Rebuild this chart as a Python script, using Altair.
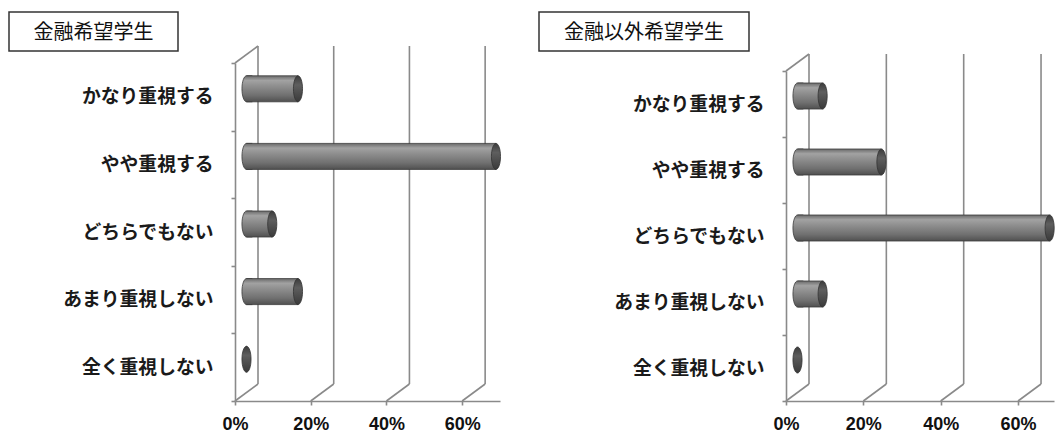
import altair as alt
import pandas as pd

# ---- data ----
categories = ["かなり重視する", "やや重視する", "どちらでもない", "あまり重視しない", "全く重視しない"]
finance_pct = [13.6, 65.9, 6.8, 13.6, 0.0]        # 金融希望学生
non_finance_pct = [6.5, 21.7, 65.2, 6.5, 0.0]     # 金融以外希望学生
tick_values = [0, 20, 40, 60]
panel_titles = ["金融希望学生", "金融以外希望学生"]

# ---- styling ----
LINE = "#8a8a8a"
LW = 1.6
DX, DY = 23, -17            # depth of the pseudo-3D back wall (px)
BAR_H = 26
BAR_DX, BAR_DY = 11.5, -8
CAP_SIZE = BAR_H * BAR_H
JP = "Noto Sans CJK JP"

bar_grad = alt.Gradient(
    gradient="linear", x1=0, y1=0, x2=0, y2=1,
    stops=[
        alt.GradientStop(color="#6a6a6a", offset=0.0),
        alt.GradientStop(color="#a2a2a2", offset=0.18),
        alt.GradientStop(color="#8e8e8e", offset=0.4),
        alt.GradientStop(color="#707070", offset=0.75),
        alt.GradientStop(color="#505050", offset=1.0),
    ],
)
cap_grad = alt.Gradient(
    gradient="linear", x1=0, y1=0, x2=0, y2=1,
    stops=[
        alt.GradientStop(color="#3c3c3c", offset=0.0),
        alt.GradientStop(color="#5e5e5e", offset=0.35),
        alt.GradientStop(color="#3a3a3a", offset=1.0),
    ],
)
RIGHT_CAP = "M0,-1 A0.35,1 0 1,1 0,1 A0.35,1 0 1,1 0,-1 Z"
LEFT_CAP = "M0.45,-1 L0,-1 A0.35,1 0 0,0 0,1 L0.45,1"


def panel(title, values, W, H, inset, xmax, box):
    bx1, bx2, by1, by2 = box
    bars = pd.DataFrame({"cat": categories, "v": values})
    ticks = pd.DataFrame({"t": tick_values})
    tdf = pd.DataFrame({"title": [title]})

    xs = alt.Scale(domain=[0, xmax], nice=False, zero=True)
    ys = alt.Scale(domain=categories, range=[inset, H], paddingInner=0, paddingOuter=0)
    xax = alt.Axis(
        values=tick_values, labelExpr="datum.value + '%'", title=None, grid=False,
        domainColor=LINE, domainWidth=LW, tickColor=LINE, tickWidth=LW, tickSize=4,
        labelPadding=10, labelFont="Liberation Sans", labelFontWeight="bold",
        labelFontSize=18, labelColor="#111111", labelFlush=False,
    )
    yax = alt.Axis(
        title=None, grid=False, domainColor=LINE, domainWidth=LW, tickColor=LINE,
        tickWidth=LW, tickSize=4, tickBand="extent", labelPadding=18,
        labelFont=JP, labelFontWeight="bold", labelFontSize=18.8, labelColor="#1a1a1a",
        labelLimit=300,
    )
    X = lambda f: alt.X(f, type="quantitative", scale=xs, axis=xax)
    Y = alt.Y("cat:N", scale=ys, axis=yax, sort=categories)

    tb = alt.Chart(ticks)
    back = tb.mark_rule(color=LINE, strokeWidth=LW, xOffset=DX).encode(
        x=X("t"), y=alt.value(inset + DY), y2=alt.value(H + DY)
    )
    floor = tb.mark_rule(color=LINE, strokeWidth=LW, x2Offset=DX).encode(
        x=X("t"), x2="t:Q", y=alt.value(H), y2=alt.value(H + DY)
    )
    top = tb.transform_filter("datum.t == 0").mark_rule(
        color=LINE, strokeWidth=LW, x2Offset=DX
    ).encode(x=X("t"), x2="t:Q", y=alt.value(inset), y2=alt.value(inset + DY))

    tc = alt.Chart(tdf)
    rect = tc.mark_rect(fill="white", stroke="#333333", strokeWidth=1.5).encode(
        x=alt.value(bx1), x2=alt.value(bx2), y=alt.value(by1), y2=alt.value(by2)
    )
    text = tc.mark_text(font=JP, fontSize=20, color="#111111", align="center",
                        baseline="middle").encode(
        x=alt.value((bx1 + bx2) / 2), y=alt.value((by1 + by2) / 2 + 1), text="title:N"
    )

    bc = alt.Chart(bars)
    body = bc.mark_bar(size=BAR_H, fill=bar_grad, stroke="#3a3a3a", strokeWidth=0.8,
                       xOffset=BAR_DX, x2Offset=BAR_DX, yOffset=BAR_DY).encode(
        x=X("v"), y=Y
    )
    lcap = bc.transform_filter("datum.v > 0").transform_calculate(zero="0").mark_point(
        shape=LEFT_CAP, size=CAP_SIZE, filled=True, opacity=1, fill=bar_grad,
        stroke="#3a3a3a", strokeWidth=0.8, xOffset=BAR_DX, yOffset=BAR_DY
    ).encode(x=X("zero"), y=Y)
    rcap = bc.mark_point(
        shape=RIGHT_CAP, size=CAP_SIZE, filled=True, opacity=1, fill=cap_grad,
        stroke="#333333", strokeWidth=0.8, xOffset=BAR_DX, yOffset=BAR_DY
    ).encode(x=X("v"), y=Y)

    return alt.layer(back, floor, top, rect, text, body, lcap, rcap).properties(
        width=W, height=H
    )


left = panel(panel_titles[0], finance_pct, 265, 338, 0, 70, (-226, -57, -51, -12))
right = panel(panel_titles[1], non_finance_pct, 268, 338, 8, 69.3, (-247, -37, -51, -12))

chart = alt.concat(left, right, columns=2, align="none", bounds="full", spacing=35).properties(
    padding={"left": 8, "top": 11, "right": 0, "bottom": 0},
    background="white",
).configure_view(stroke=None)

chart.save("out.html", embed_options={"renderer": "svg", "actions": False})
